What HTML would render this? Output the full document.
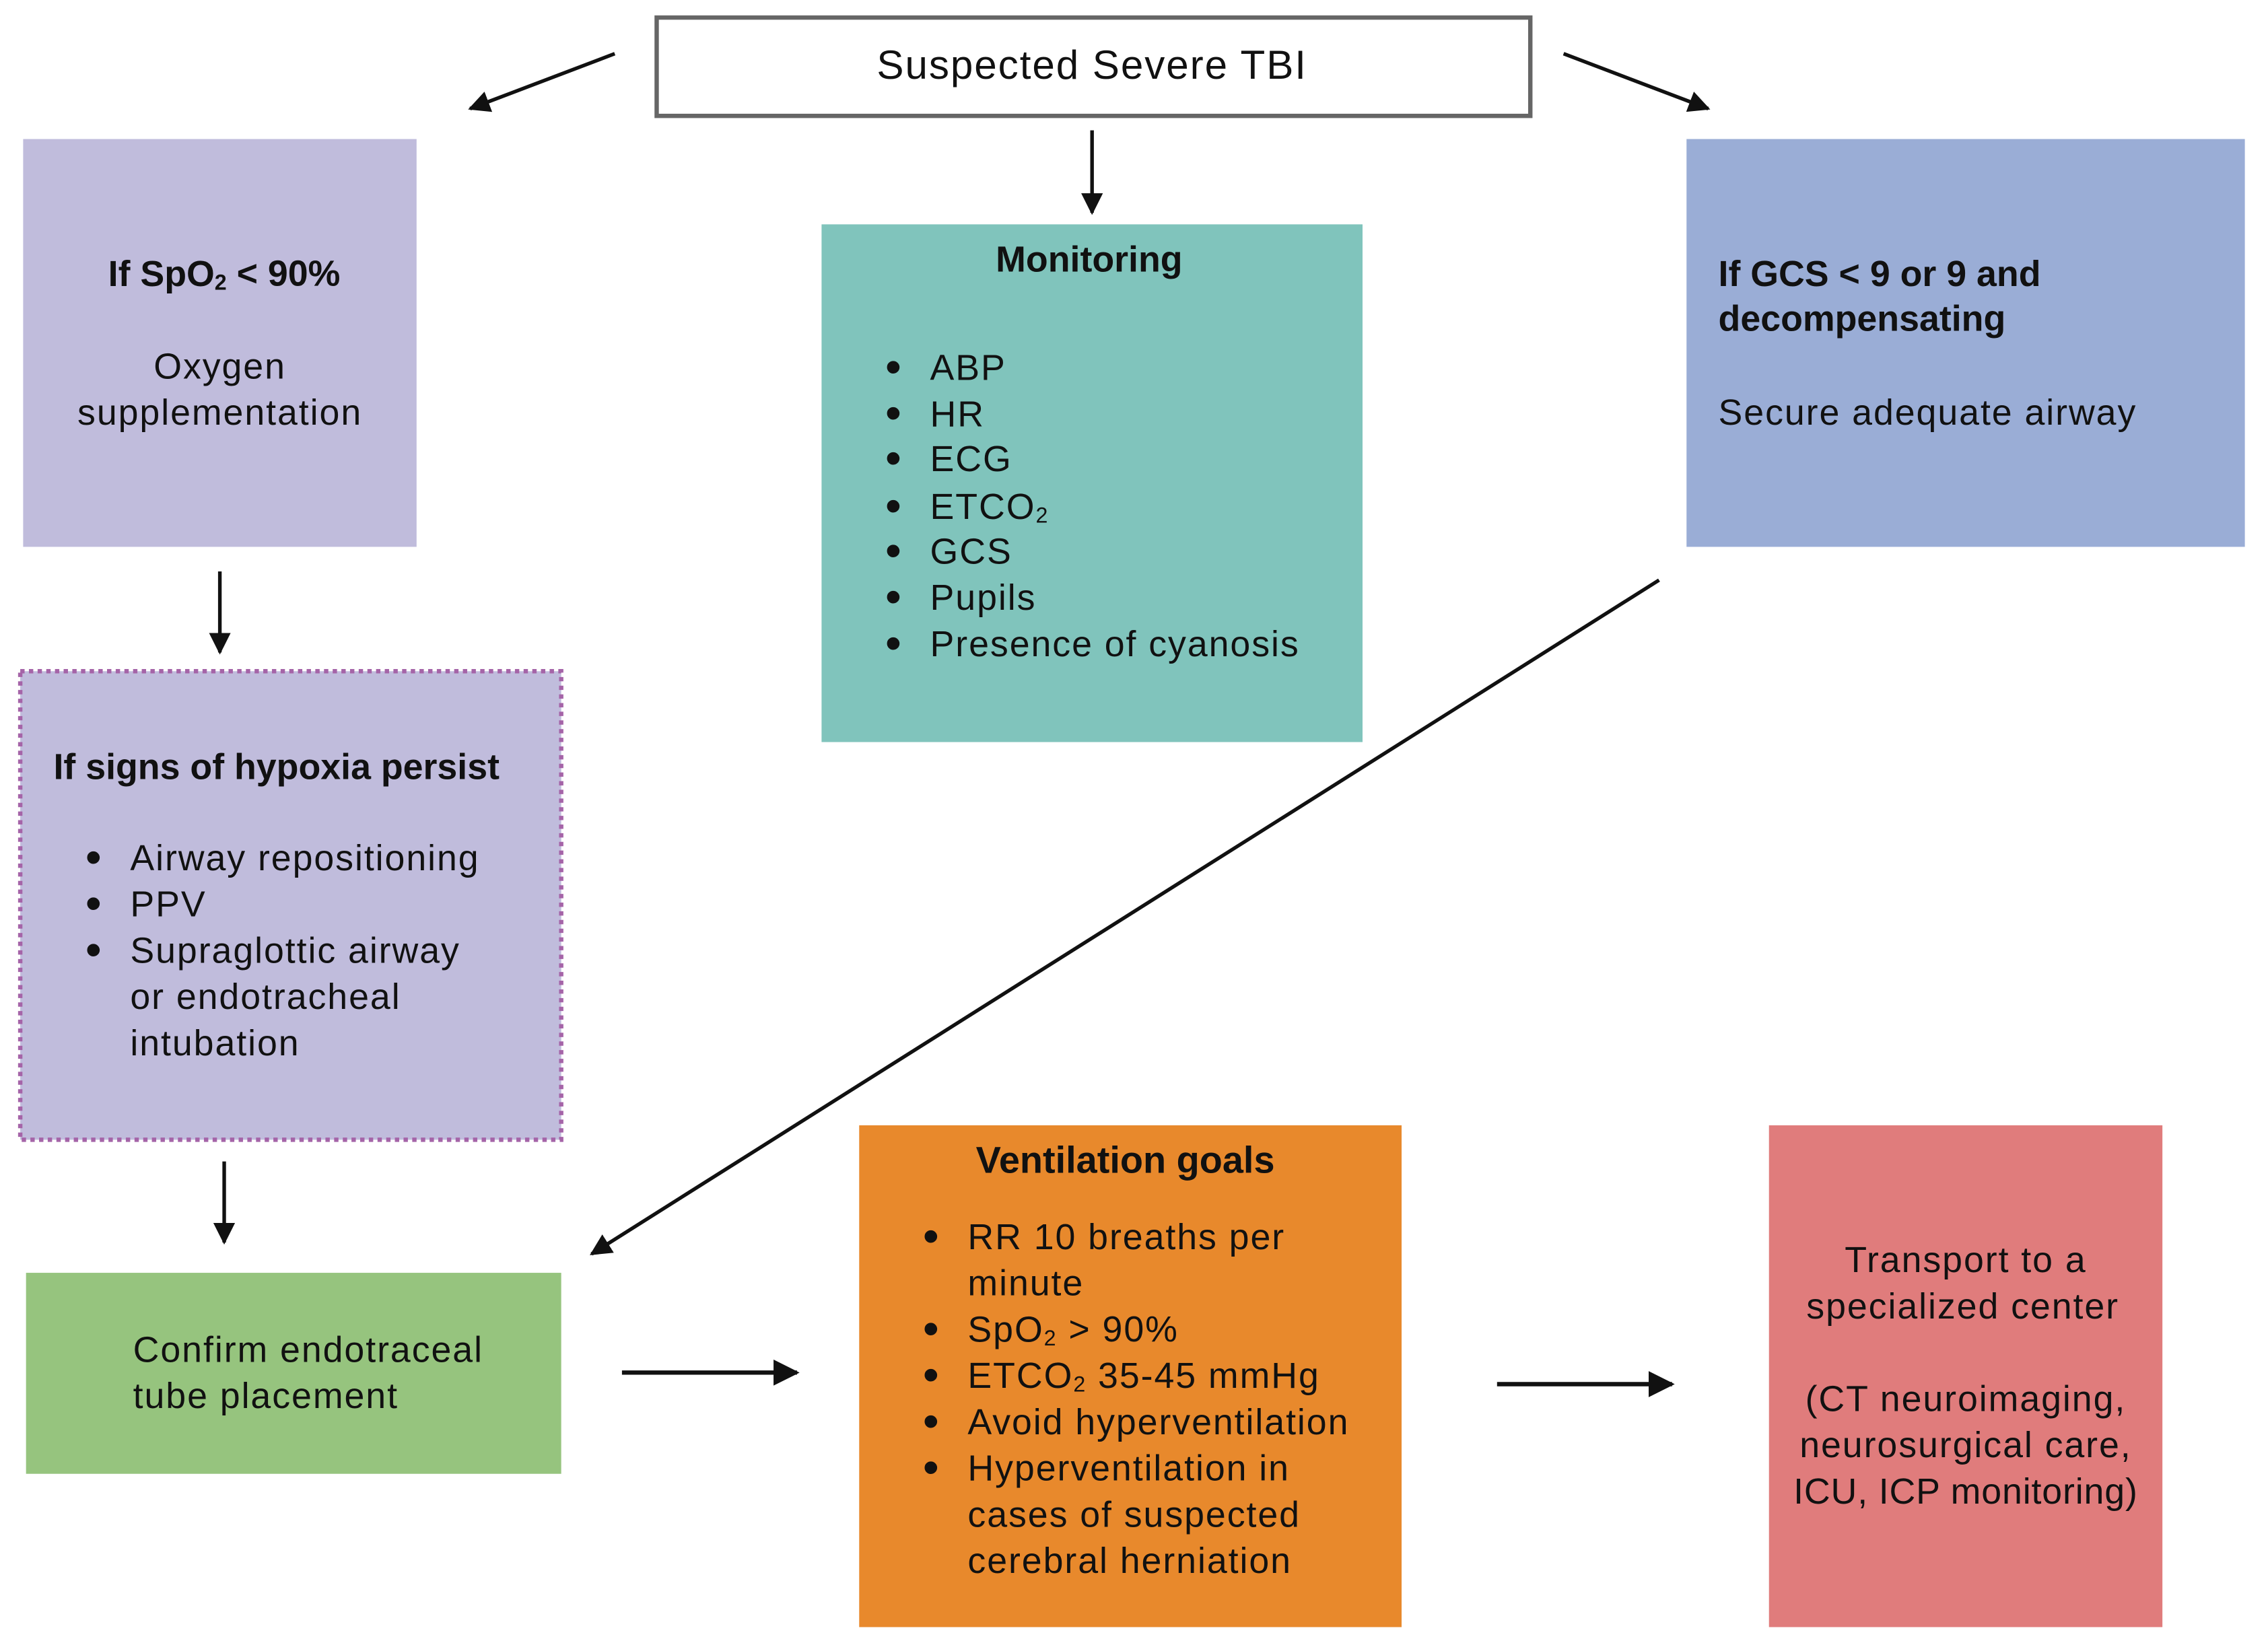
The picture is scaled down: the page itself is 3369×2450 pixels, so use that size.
<!DOCTYPE html>
<html><head><meta charset="utf-8"><style>html,body{margin:0;padding:0;background:#fff}svg{display:block}</style></head>
<body>
<svg width="3369" height="2450" viewBox="0 0 1568 1140" xmlns="http://www.w3.org/2000/svg" font-family="Liberation Sans, sans-serif" font-size="25" letter-spacing="0.9" fill="#111">
<defs><marker id="a" viewBox="0 0 10 10" refX="9" refY="5" markerWidth="6" markerHeight="6" orient="auto-start-reverse"><path d="M0,0L10,5L0,10z" fill="#111"/></marker></defs>
<rect width="1568" height="1140" fill="#fff"/>
<rect x="454" y="12" width="604" height="68" fill="#fff" stroke="#666" stroke-width="3"/>
<text x="755" y="47" font-size="28" text-anchor="middle" dominant-baseline="middle">Suspected Severe TBI</text>
<rect x="16" y="96" width="272" height="282" fill="#c0bcdc"/>
<text x="155" y="191" text-anchor="middle" dominant-baseline="middle" font-weight="bold" letter-spacing="0">If SpO<tspan font-size="15" dy="5">2</tspan><tspan dy="-5"> &lt; 90%</tspan></text>
<text x="152" y="255" text-anchor="middle" dominant-baseline="middle">Oxygen</text>
<text x="152" y="287" text-anchor="middle" dominant-baseline="middle">supplementation</text>
<rect x="568" y="155" width="374" height="358" fill="#80c4bc"/>
<text x="753" y="181" text-anchor="middle" dominant-baseline="middle" font-weight="bold" letter-spacing="0">Monitoring</text>
<g dominant-baseline="middle" font-size="25">
<text x="612" y="256" font-size="32">•</text><text x="643" y="256">ABP</text>
<text x="612" y="288" font-size="32">•</text><text x="643" y="288">HR</text>
<text x="612" y="319" font-size="32">•</text><text x="643" y="319">ECG</text>
<text x="612" y="352" font-size="32">•</text><text x="643" y="352">ETCO<tspan font-size="15" dy="5">2</tspan></text>
<text x="612" y="383" font-size="32">•</text><text x="643" y="383">GCS</text>
<text x="612" y="415" font-size="32">•</text><text x="643" y="415">Pupils</text>
<text x="612" y="447" font-size="32">•</text><text x="643" y="447">Presence of cyanosis</text>
</g>
<rect x="1166" y="96" width="386" height="282" fill="#9aadd6"/>
<g dominant-baseline="middle">
<text x="1188" y="191" font-weight="bold" letter-spacing="0">If GCS &lt; 9 or 9 and</text>
<text x="1188" y="222" font-weight="bold" letter-spacing="0">decompensating</text>
<text x="1188" y="287">Secure adequate airway</text>
</g>
<rect x="14" y="464" width="374" height="324" fill="#c0bcdc" stroke="#a564a8" stroke-width="3" stroke-dasharray="3 3"/>
<g dominant-baseline="middle">
<text x="37" y="532" font-weight="bold" letter-spacing="0">If signs of hypoxia persist</text>
<text x="59" y="595" font-size="32">•</text><text x="90" y="595">Airway repositioning</text>
<text x="59" y="627" font-size="32">•</text><text x="90" y="627">PPV</text>
<text x="59" y="659" font-size="32">•</text><text x="90" y="659">Supraglottic airway</text>
<text x="90" y="691">or endotracheal</text>
<text x="90" y="723">intubation</text>
</g>
<rect x="18" y="880" width="370" height="139" fill="#96c47e"/>
<text x="92" y="935" dominant-baseline="middle">Confirm endotraceal</text>
<text x="92" y="967" dominant-baseline="middle">tube placement</text>
<rect x="594" y="778" width="375" height="347" fill="#e8892c"/>
<g dominant-baseline="middle">
<text x="778" y="804" text-anchor="middle" font-weight="bold" font-size="26" letter-spacing="0">Ventilation goals</text>
<text x="638" y="857" font-size="32">•</text><text x="669" y="857">RR 10 breaths per</text>
<text x="669" y="889">minute</text>
<text x="638" y="921" font-size="32">•</text><text x="669" y="921">SpO<tspan font-size="15" dy="5">2</tspan><tspan dy="-5"> &gt; 90%</tspan></text>
<text x="638" y="953" font-size="32">•</text><text x="669" y="953">ETCO<tspan font-size="15" dy="5">2</tspan><tspan dy="-5"> 35-45 mmHg</tspan></text>
<text x="638" y="985" font-size="32">•</text><text x="669" y="985">Avoid hyperventilation</text>
<text x="638" y="1017" font-size="32">•</text><text x="669" y="1017">Hyperventilation in</text>
<text x="669" y="1049">cases of suspected</text>
<text x="669" y="1081">cerebral herniation</text>
</g>
<rect x="1223" y="778" width="272" height="347" fill="#e07c7c"/>
<g dominant-baseline="middle" text-anchor="middle">
<text x="1359" y="873">Transport to a</text>
<text x="1357" y="905">specialized center</text>
<text x="1359" y="969">(CT neuroimaging,</text>
<text x="1359" y="1001">neurosurgical care,</text>
<text x="1359" y="1033" letter-spacing="0.4">ICU, ICP monitoring)</text>
</g>
<g stroke="#111" stroke-width="2.5" fill="none" marker-end="url(#a)">
<line x1="425" y1="37" x2="325" y2="75"/>
<line x1="1081" y1="37" x2="1181" y2="75"/>
<line x1="755" y1="90" x2="755" y2="147"/>
<line x1="152" y1="395" x2="152" y2="451"/>
<line x1="155" y1="803" x2="155" y2="859"/>
<line x1="1147" y1="401" x2="409" y2="867"/>
<line x1="430" y1="949" x2="551" y2="949" stroke-width="3"/>
<line x1="1035" y1="957" x2="1156" y2="957" stroke-width="3"/>
</g>
</svg>
</body></html>
